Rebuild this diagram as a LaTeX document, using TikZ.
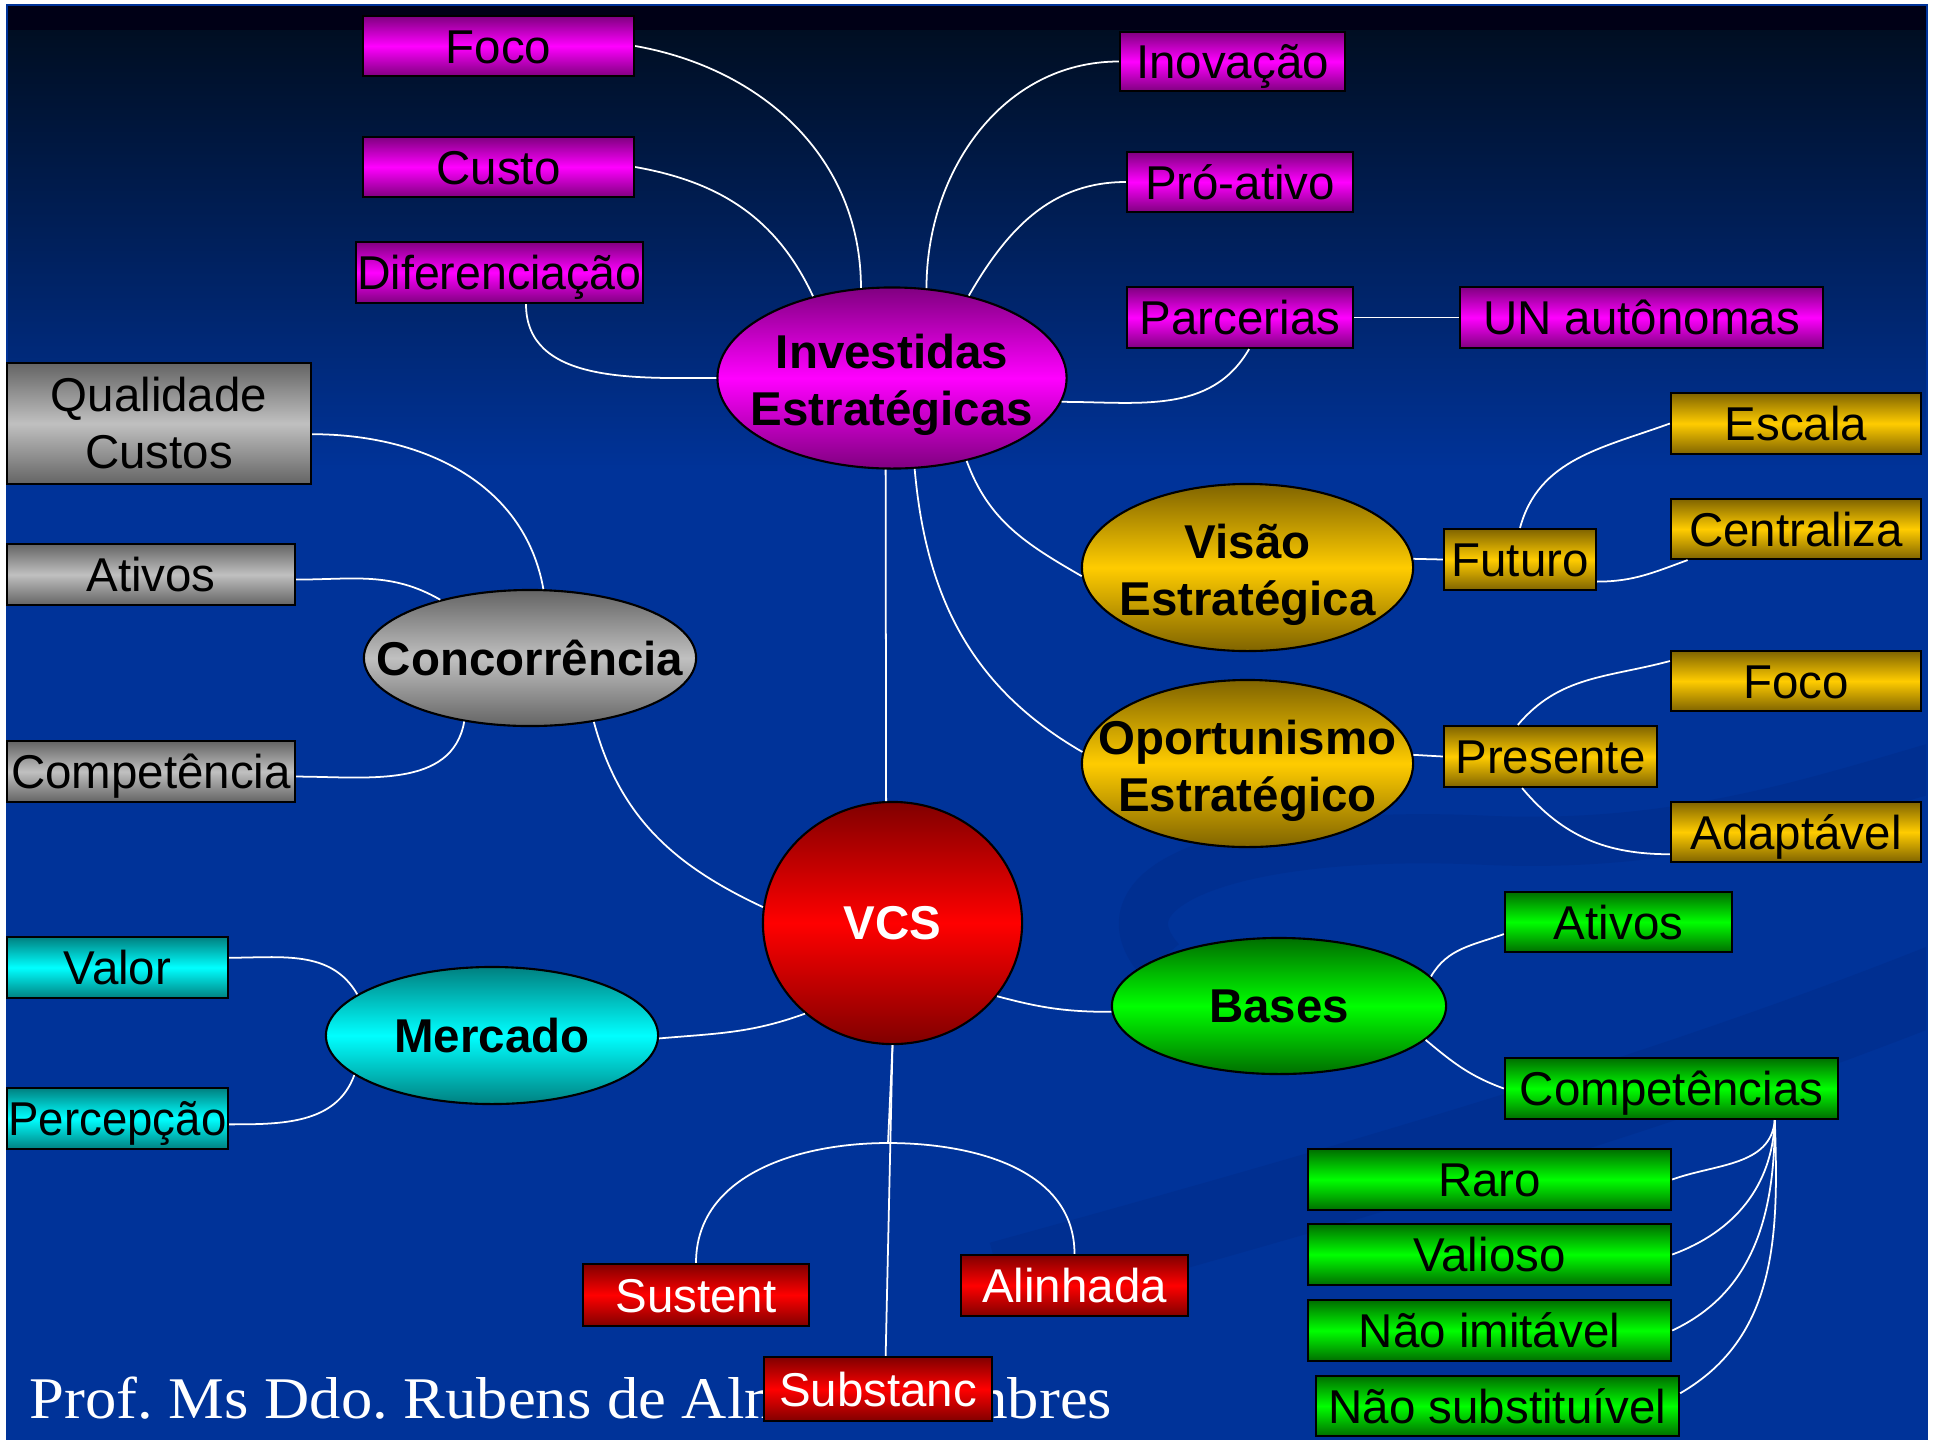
\documentclass[tikz,border=0pt]{standalone}
\usepackage{fontspec}
\setmainfont{Liberation Sans}
\newfontfamily\footfont{Liberation Serif}
\usetikzlibrary{shapes.geometric}

\definecolor{bgblue}{RGB}{0,51,153}
\definecolor{bgtop}{RGB}{0,14,34}
\definecolor{bgdark}{RGB}{0,0,22}
\definecolor{swooshblue}{RGB}{0,38,128}
\definecolor{magdark}{RGB}{128,0,128}
\definecolor{magbright}{RGB}{255,0,255}
\definecolor{graydark}{RGB}{100,100,100}
\definecolor{graybright}{RGB}{192,192,192}
\definecolor{yeldark}{RGB}{128,100,0}
\definecolor{yelbright}{RGB}{255,204,0}
\definecolor{cyandark}{RGB}{0,128,128}
\definecolor{cyanbright}{RGB}{0,255,255}
\definecolor{grndark}{RGB}{0,110,0}
\definecolor{grnbright}{RGB}{0,255,0}
\definecolor{reddark}{RGB}{128,0,0}
\definecolor{redbright}{RGB}{255,0,0}

\newcommand{\boxfont}{\fontsize{13.5}{16.2}\selectfont}

\tikzset{
	wh/.style 2 args={minimum width=#1cm, minimum height=#2cm},
	card/.style={rectangle, draw=black, line width=0.6pt, inner sep=0pt,
		font=\boxfont, text height=0.44cm, text depth=0.1cm},
	blob/.style={ellipse, draw=black, line width=0.6pt, inner sep=0pt},
	blobtext/.style={inner sep=0pt, align=center, font=\boxfont\bfseries},
	twolines/.style={yshift=-0.07cm},
	magshade/.style={top color=magdark, bottom color=magdark, middle color=magbright},
	grayshade/.style={top color=graydark, bottom color=graydark, middle color=graybright},
	yelshade/.style={top color=yeldark, bottom color=yeldark, middle color=yelbright},
	cyanshade/.style={top color=cyandark, bottom color=cyandark, middle color=cyanbright},
	grnshade/.style={top color=grndark, bottom color=grndark, middle color=grnbright},
	redshade/.style={top color=reddark, bottom color=reddark, middle color=redbright},
	magbox/.style={card, magshade},
	graybox/.style={card, grayshade},
	yelbox/.style={card, yelshade},
	cyanbox/.style={card, cyanshade},
	grnbox/.style={card, grnshade},
	redbox/.style={card, redshade, text=white},
	link/.style={white, line width=0.5pt},
}

\begin{document}
\frenchspacing
\begin{tikzpicture}[x=0.01cm,y=-0.01cm]
	\useasboundingbox (0,0) rectangle (1937,1439);
	\fill[white] (0,0) rectangle (1937,1439);
	% slide background
	\fill[bgblue] (7,5) rectangle (1927,1439);
	\shade[top color=bgtop, bottom color=bgblue] (7,30) rectangle (1927,470);
	\fill[bgdark] (7,5) rectangle (1927,30);
	\begin{scope}
		\clip (7,30) rectangle (1927,1439);
		\draw[swooshblue, opacity=0.3, line width=22pt] (1000,1280) .. controls (1400,1170) and (1700,1080) .. (1960,975);
		\draw[swooshblue, opacity=0.3, line width=14pt] (1160,960) .. controls (1090,880) and (1250,830) .. (1480,840) .. controls (1680,850) and (1820,800) .. (1960,760);
	\end{scope}
	\draw[bgblue, line width=0.6pt] (7,5) rectangle (1927,1439);
	\node[anchor=base west, inner sep=0pt, text=white, font=\footfont\fontsize{16.8}{20}\selectfont] (footl) at (29,1418) {\scalebox{1.06}[1]{Prof. Ms Ddo. Rubens de Alm}};
	\node[anchor=base east, inner sep=0pt, text=white, font=\footfont\fontsize{16.8}{20}\selectfont] (footr) at (1113,1418) {\scalebox{1.06}[1]{mbres}};

	% investidas
	\node[blob, magshade, wh={3.49}{1.81}] (invest) at (892,378) {};
	\node[blobtext, twolines] (investt) at (invest.center) {Investidas\\Estratégicas};
	\node[magbox, wh={2.71}{0.60}] (foco1) at (498.5,46) {Foco};
	\node[magbox, wh={2.71}{0.60}] (custo) at (498.5,167) {Custo};
	\node[magbox, wh={2.87}{0.61}] (difer) at (499.5,272.5) {\scalebox{0.98}[1]{Diferenciação}};
	\node[magbox, wh={2.25}{0.59}] (inov) at (1232.5,61.5) {Inovação};
	\node[magbox, wh={2.26}{0.60}] (proativo) at (1240,182) {Pró-ativo};
	\node[magbox, wh={2.26}{0.61}] (parc) at (1240,317.5) {Parcerias};
	\node[magbox, wh={3.63}{0.61}] (unaut) at (1641.5,317.5) {UN autônomas};

	% concorrencia
	\node[blob, grayshade, wh={3.32}{1.36}] (concor) at (530,658) {};
	\node[blobtext] (concort) at (concor.center) {Concorrência};
	\node[graybox, wh={3.04}{1.21}, align=center, text height=, text depth=] (qual) at (159,423.5) {Qualidade\\Custos};
	\node[graybox, wh={2.88}{0.61}] (ativos1) at (151,574.5) {Ativos};
	\node[graybox, wh={2.88}{0.61}] (compet) at (151,771.5) {Competência};

	% mercado
	\node[blob, cyanshade, wh={3.32}{1.37}] (mercado) at (492,1035.5) {};
	\node[blobtext] (mercadot) at (mercado.center) {Mercado};
	\node[cyanbox, wh={2.21}{0.61}] (valor) at (117.5,967.5) {Valor};
	\node[cyanbox, wh={2.21}{0.61}] (percep) at (117.5,1118.5) {\scalebox{0.96}[1]{Percepção}};

	% vcs
	\node[blob, redshade, wh={2.59}{2.42}] (vcs) at (892.5,923) {};
	\node[blobtext, text=white] (vcst) at (vcs.center) {VCS};
	\node[redbox, wh={2.26}{0.62}] (sustent) at (696,1295) {Sustent};
	\node[redbox, wh={2.27}{0.61}] (alinhada) at (1074.5,1285.5) {Alinhada};
	\node[redbox, wh={2.28}{0.64}] (substanc) at (878,1389) {Substanc};

	% visao / oportunismo
	\node[blob, yelshade, wh={3.31}{1.67}] (visao) at (1247.5,567.5) {};
	\node[blobtext, twolines] (visaot) at (visao.center) {Visão\\Estratégica};
	\node[blob, yelshade, wh={3.31}{1.67}] (oport) at (1247.5,763.5) {};
	\node[blobtext, twolines] (oportt) at (oport.center) {Oportunismo\\Estratégico};
	\node[yelbox, wh={1.52}{0.61}] (futuro) at (1520,559.5) {Futuro};
	\node[yelbox, wh={2.13}{0.61}] (presente) at (1550.5,756.5) {Presente};
	\node[yelbox, wh={2.50}{0.61}] (escala) at (1796,423.5) {Escala};
	\node[yelbox, wh={2.50}{0.60}] (central) at (1796,529) {Centraliza};
	\node[yelbox, wh={2.50}{0.60}] (foco2) at (1796,681) {Foco};
	\node[yelbox, wh={2.50}{0.60}] (adapt) at (1796,832) {Adaptável};

	% bases
	\node[blob, grnshade, wh={3.34}{1.36}] (bases) at (1279,1006) {};
	\node[blobtext] (basest) at (bases.center) {Bases};
	\node[grnbox, wh={2.27}{0.60}] (ativos2) at (1618.5,922) {Ativos};
	\node[grnbox, wh={3.33}{0.61}] (comp) at (1671.5,1088.5) {Competências};
	\node[grnbox, wh={3.63}{0.61}] (raro) at (1489.5,1179.5) {Raro};
	\node[grnbox, wh={3.63}{0.61}] (valioso) at (1489.5,1254.5) {Valioso};
	\node[grnbox, wh={3.63}{0.61}] (naoimit) at (1489.5,1330.5) {Não imitável};
	\node[grnbox, wh={3.63}{0.60}] (naosubst) at (1497.5,1406) {Não substituível};

	% connectors
	\draw[link] (foco1.east) to[out=-10,in=90] (invest.109);
	\draw[link] (custo.east) to[out=-10,in=115] (invest.134);
	\draw[link] (difer.-50) to[out=-90,in=180] (invest.west);
	\draw[link] (invest.69) to[out=90,in=180] (inov.west);
	\draw[link] (invest.47) to[out=60,in=180] (proativo.west);
	\draw[link] (invest.-8) to[out=0,in=-120] (parc.-74);
	\draw[link] (parc.east) -- (unaut.west);
	\draw[link] (invest.-48) to[out=-70,in=150] (visao.183);
	\draw[link] (invest.-76) to[out=-85,in=150] (oport.176);
	\draw[link] (invest.-94.4) -- (vcs.93.5);

	\draw[link] (qual.-4) to[out=0,in=100] (concor.79);
	\draw[link] (ativos1.-2) to[out=0,in=150] (concor.147);
	\draw[link] (compet.-2) to[out=0,in=-100] (concor.-136);
	\draw[link] (concor.-45) to[out=-75,in=155] (vcs.173);

	\draw[link] (valor.5) to[out=0,in=120] (mercado.163);
	\draw[link] (percep.-3) to[out=0,in=-110] (mercado.-164);
	\draw[link] (mercado.-1) to[out=5,in=-160] (vcs.-134);

	\draw[link] (vcs.-35) to[out=-15,in=180] (bases.182);
	\draw[link] (bases.11) to[out=60,in=200] (ativos2.186);
	\draw[link] (bases.-13) to[out=-40,in=160] (comp.west);
	\draw[link] (comp.-17) to[out=-95,in=20] (raro.east);
	\draw[link] (comp.-17) to[out=-92,in=20] (valioso.east);
	\draw[link] (comp.-17) to[out=-90,in=25] (naoimit.east);
	\draw[link] (comp.-17) to[out=-88,in=30] (naosubst.4);

	\draw[link] (visao.3) -- (futuro.west);
	\draw[link] (futuro.north) to[out=75,in=200] (escala.west);
	\draw[link] (futuro.-16) to[out=0,in=-160] (central.-164);
	\draw[link] (oport.3) -- (presente.west);
	\draw[link] (presente.136) to[out=50,in=195] (foco2.171);
	\draw[link] (presente.-132) to[out=-50,in=180] (adapt.190);

	\coordinate (vcsfork) at (888,1143);
	\draw[link] (vcs.south) -- (substanc.77);
	\draw[link] (vcs.south) -- (vcsfork);
	\draw[link] (sustent.north) to[out=90,in=180] (vcsfork) to[out=0,in=90] (alinhada.north);
\end{tikzpicture}
\end{document}
